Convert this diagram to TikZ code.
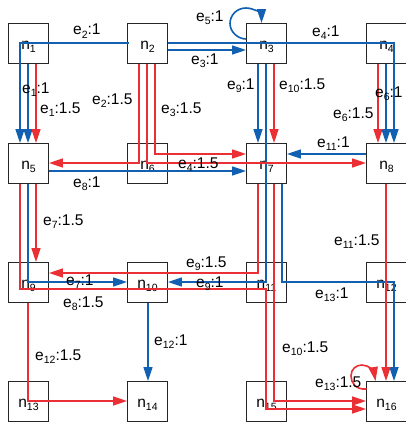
\documentclass[tikz,border=0pt]{standalone}
\usepackage{fontspec}
\setmainfont{Liberation Sans}
\usetikzlibrary{arrows.meta,calc}
\definecolor{cblue}{RGB}{18,96,178}
\definecolor{cred}{RGB}{234,48,52}
\newcommand\lowidx[1]{\raisebox{-3pt}{\fontsize{10.5}{10.5}\selectfont #1}}
\begin{document}
\begin{tikzpicture}[x=1pt,y=-1pt,
  box/.style={draw=black!85, line width=0.9pt, minimum size=40pt, inner sep=0pt, text height=11.6pt, text depth=0pt, font=\fontsize{15.5}{18}\selectfont},
  lbl/.style={anchor=base west, inner sep=0pt, font=\fontsize{15.5}{18}\selectfont},
  tip/.style={-{Triangle[length=14pt,width=9pt]}},
  bl/.style={draw=cblue, line width=1.6pt, tip},
  rd/.style={draw=cred, line width=1.6pt, tip},
]
\useasboundingbox (0,0) rectangle (405,428);
% nodes
\node[box] (n1)  at (28.5,43.5)  {n\lowidx{1}};
\node[box] (n2)  at (147.5,43.5) {n\lowidx{2}};
\node[box] (n3)  at (266.5,43.5) {n\lowidx{3}};
\node[box] (n4)  at (386.5,43.5) {n\lowidx{4}};
\node[box] (n5)  at (28.5,163.5) {n\lowidx{5}};
\node[box] (n6)  at (147.5,163.5){n\lowidx{6}};
\node[box] (n7)  at (266.5,163.5){n\lowidx{7}};
\node[box] (n8)  at (386.5,163.5){n\lowidx{8}};
\node[box] (n9)  at (28.5,282.5) {n\lowidx{9}};
\node[box] (n10) at (147.5,282.5){n\lowidx{10}};
\node[box] (n11) at (266.5,282.5){n\lowidx{11}};
\node[box] (n12) at (386.5,282.5){n\lowidx{12}};
\node[box] (n13) at (28.5,401.5) {n\lowidx{13}};
\node[box] (n14) at (147.5,401.5){n\lowidx{14}};
\node[box] (n15) at (266.5,401.5){n\lowidx{15}};
\node[box] (n16) at (386.5,401.5){n\lowidx{16}};

% blue connectors
\draw[bl] ($(n2.west)+(2,-0.5)$) -| ($(n5.north)+(-8.5,0)$);
\draw[bl] ($(n1.south)+(-0.5,0)$) -- ($(n5.north)+(-0.5,0)$);
\draw[bl] ($(n2.east)+(0,-0.5)$) -| ($(n8.north)+(7.5,0)$);
\draw[bl] ($(n2.east)+(0,6.5)$) -- ($(n3.west)+(0,6.5)$);
\draw[bl] ($(n3.west)+(0,-4.5)$) .. controls (238,39) and (230,32) .. (230,23.5)
          .. controls (230,15) and (237,8) .. (246,8)
          .. controls (254.5,8) and (261.5,15) .. ($(n3.north)+(-5,0)$);
\draw[bl] ($(n3.south)+(-8.5,0)$) -- ($(n7.north)+(-8.5,0)$);
\draw[bl] ($(n3.south)+(-0.5,0)$) |- ($(n10.east)+(0,-0.5)$);
\draw[bl] ($(n4.south)+(-0.5,0)$) -- ($(n8.north)+(-0.5,0)$);
\draw[bl] ($(n5.east)+(0,7.5)$) -- ($(n7.west)+(0,7.5)$);
\draw[bl] ($(n8.west)+(0,-9.5)$) -- ($(n7.east)+(0,-9.5)$);
\draw[bl] ($(n7.south)+(15.5,0)$) |- ($(n12.center)+(7.5,-0.5)$) -- ($(n16.north)+(7.5,0)$);
\draw[bl] ($(n5.south)+(-0.5,0)$) |- ($(n10.west)+(0,-0.5)$);
\draw[bl] ($(n10.south)+(0.5,0)$) -- ($(n14.north)+(0.5,0)$);

% red connectors
\draw[rd] ($(n1.south)+(7.5,0)$) -- ($(n5.north)+(7.5,0)$);
\draw[rd] ($(n2.south)+(-8.5,0)$) |- ($(n5.east)+(0,-0.5)$);
\draw[rd] ($(n2.south)+(-0.5,0)$) |- ($(n8.west)+(0,-0.5)$);
\draw[rd] ($(n2.south)+(7.5,0)$) |- ($(n7.west)+(0,-9.5)$);
\draw[rd] ($(n3.south)+(7.5,0)$) -- ($(n7.north)+(7.5,0)$);
\draw[rd] ($(n4.south)+(-8.5,0)$) -- ($(n8.north)+(-8.5,0)$);
\draw[rd] ($(n5.south)+(7.5,0)$) -- ($(n9.north)+(7.5,0)$);
\draw[rd] ($(n5.south)+(-8.5,0)$) |- ($(n11.center)+(-0.5,6.5)$) |- ($(n16.west)+(0,7.5)$);
\draw[rd] ($(n7.south)+(-8.5,0)$) |- ($(n9.east)+(0,-9.5)$);
\draw[rd] ($(n7.south)+(7.5,0)$) |- ($(n16.west)+(0,-0.5)$);
\draw[rd] ($(n8.south)+(-0.5,0)$) -- ($(n16.north)+(-0.5,0)$);
\draw[rd] ($(n9.south)+(-0.5,0)$) |- ($(n14.west)+(0,-0.5)$);
\draw[rd] ($(n16.west)+(0.5,-12.5)$) .. controls (356,390) and (351,383) .. (351,376)
          .. controls (351,369) and (356,365) .. (362,365)
          .. controls (369,365) and (374,372) .. ($(n16.north)+(-11,0)$);

% labels
\node[lbl] (l1)  at (73,35)   {e\lowidx{2}:1};
\node[lbl] (l2)  at (22,93)   {e\lowidx{1}:1};
\node[lbl] (l3)  at (40,113)  {e\lowidx{1}:1.5};
\node[lbl] (l4)  at (92,104)  {e\lowidx{2}:1.5};
\node[lbl] (l5)  at (161,113) {e\lowidx{3}:1.5};
\node[lbl] (l6)  at (191,64)  {e\lowidx{3}:1};
\node[lbl] (l7)  at (196,22)  {e\lowidx{5}:1};
\node[lbl] (l8)  at (312,37)  {e\lowidx{4}:1};
\node[lbl] (l9)  at (227,89)  {e\lowidx{9}:1};
\node[lbl] (l10) at (279,89)  {e\lowidx{10}:1.5};
\node[lbl] (l11) at (375,97)  {e\lowidx{6}:1};
\node[lbl] (l12) at (333,118) {e\lowidx{6}:1.5};
\node[lbl] (l13) at (317,147) {e\lowidx{11}:1};
\node[lbl] (l14) at (178,168) {e\lowidx{4}:1.5};
\node[lbl] (l15) at (73,187)  {e\lowidx{8}:1};
\node[lbl] (l16) at (43,225)  {e\lowidx{7}:1.5};
\node[lbl] (l17) at (334,245) {e\lowidx{11}:1.5};
\node[lbl] (l18) at (186,267) {e\lowidx{9}:1.5};
\node[lbl] (l19) at (66,285)  {e\lowidx{7}:1};
\node[lbl] (l20) at (196,287) {e\lowidx{9}:1};
\node[lbl] (l21) at (63,307)  {e\lowidx{8}:1.5};
\node[lbl] (l22) at (315,298) {e\lowidx{13}:1};
\node[lbl] (l23) at (35,360)  {e\lowidx{12}:1.5};
\node[lbl] (l24) at (154,345) {e\lowidx{12}:1};
\node[lbl] (l25) at (282,352) {e\lowidx{10}:1.5};
\node[lbl] (l26) at (315,387) {e\lowidx{13}:1.5};
\end{tikzpicture}
\end{document}
